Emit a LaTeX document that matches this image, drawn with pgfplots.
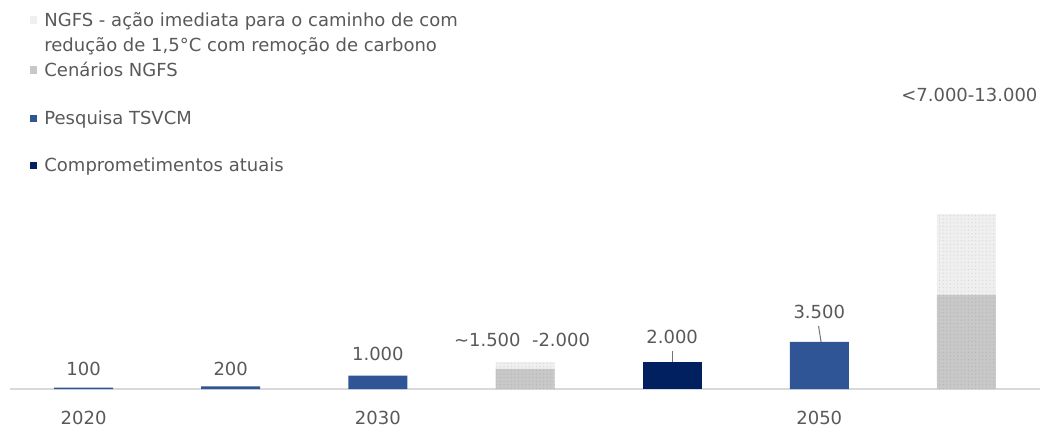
\documentclass[border=0pt]{standalone}
\usepackage{fontspec}
\setmainfont{DejaVu Sans}
\usepackage{pgfplots}
\pgfplotsset{compat=1.18}
\usetikzlibrary{patterns.meta}
\definecolor{tblue}{HTML}{2F5597}
\definecolor{tnavy}{HTML}{002060}
\definecolor{ngfs}{HTML}{C8C8C8}
\definecolor{ngfsdot}{HTML}{B2B2B2}
\definecolor{ngfsl}{HTML}{EFEFEF}
\definecolor{ngfsldot}{HTML}{D6D6D6}
\definecolor{txt}{HTML}{595959}
\begin{document}
\fontsize{9}{11}\selectfont
\begin{tikzpicture}
\begin{axis}[name=ax, scale only axis, width=515pt, height=194.5pt,
  xmin=-0.5, xmax=6.5, ymin=0, ymax=28900,
  ybar stacked, bar width=29.5pt,
  axis x line*=bottom, axis y line=none,
  x axis line style={draw=black!15, line width=0.6pt},
  xtick={0,2,5}, xticklabels={2020,2030,2050}, major tick length=0,
  xticklabel style={text=txt, font=\fontsize{9}{11}\selectfont, yshift=-8pt},
  /pgf/number format/assume math mode=true,
  clip=false]
\addplot[fill=tblue, draw=none] coordinates {(0,100)(1,200)(2,1000)(3,0)(4,0)(5,3500)(6,0)};
\addplot[fill=tnavy, draw=none] coordinates {(0,0)(1,0)(2,0)(3,0)(4,2000)(5,0)(6,0)};
\addplot[fill=ngfs, draw=none, postaction={pattern={Dots[distance=1.8pt, radius=0.3pt]}, pattern color=ngfsdot}] coordinates {(0,0)(1,0)(2,0)(3,1500)(4,0)(5,0)(6,7000)};
\addplot[fill=ngfsl, draw=none, postaction={pattern={Dots[distance=1.8pt, radius=0.3pt]}, pattern color=ngfsldot}] coordinates {(0,0)(1,0)(2,0)(3,500)(4,0)(5,0)(6,6000)};
\node[text=txt] at (axis cs:0,1486) {100};
\node[text=txt] at (axis cs:1,1486) {200};
\node[text=txt] at (axis cs:2,2600) {1.000};
\node[text=txt] at (axis cs:2.98,3640) {\textasciitilde1.500\ \ -2.000};
\node[text=txt] at (axis cs:4,3860) {2.000};
\node[text=txt] at (axis cs:5,5720) {3.500};
\node[text=txt] at (axis cs:6.02,21840) {<7.000-13.000};
\draw[black!55, line width=0.5pt] (axis cs:4,2000) -- (axis cs:4,2820);
\draw[black!55, line width=0.5pt] (axis cs:5.012,3500) -- (axis cs:4.995,4680);
\end{axis}
% legend
\fill[ngfsl] ([xshift=10pt,yshift=-8.25pt]ax.north west) rectangle ++(3.6pt,-3.6pt);
\fill[ngfs] ([xshift=10pt,yshift=-33.25pt]ax.north west) rectangle ++(3.6pt,-3.6pt);
\fill[tblue] ([xshift=10pt,yshift=-57.25pt]ax.north west) rectangle ++(3.6pt,-3.6pt);
\fill[tnavy] ([xshift=10pt,yshift=-80.75pt]ax.north west) rectangle ++(3.6pt,-3.6pt);
\node[anchor=base west, inner sep=0pt, text=txt] at ([xshift=17pt,yshift=-13.3pt]ax.north west) {NGFS - ação imediata para o caminho de com};
\node[anchor=base west, inner sep=0pt, text=txt] at ([xshift=17pt,yshift=-25.8pt]ax.north west) {redução de 1,5°C com remoção de carbono};
\node[anchor=base west, inner sep=0pt, text=txt] at ([xshift=17pt,yshift=-38.3pt]ax.north west) {Cenários NGFS};
\node[anchor=base west, inner sep=0pt, text=txt] at ([xshift=17pt,yshift=-62.3pt]ax.north west) {Pesquisa TSVCM};
\node[anchor=base west, inner sep=0pt, text=txt] at ([xshift=17pt,yshift=-85.8pt]ax.north west) {Comprometimentos atuais};
\pgfresetboundingbox
\path ([xshift=-5pt,yshift=-19.5pt]ax.south west) rectangle (ax.north east);
\end{tikzpicture}
\end{document}
